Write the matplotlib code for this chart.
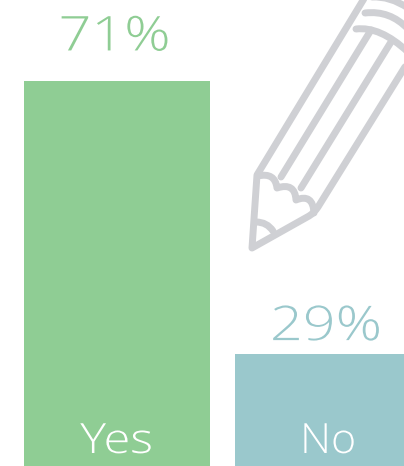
import matplotlib
matplotlib.use('Agg')
import matplotlib.pyplot as plt
from matplotlib.path import Path
from matplotlib.patches import PathPatch
from matplotlib.patheffects import AbstractPathEffect
from matplotlib.transforms import Affine2D

answers = ['Yes', 'No']
shares = [71, 29]
bar_colors = ['#8fcd94', '#9ac8cc']
pencil_color = '#cfd0d4'

plt.rcParams['font.family'] = ['Open Sans', 'DejaVu Sans']


class Widen(AbstractPathEffect):
    # horizontal stretch of a text around a fixed x position on the canvas
    def __init__(self, factor, center):
        super().__init__()
        self.factor = factor
        self.center = center

    def draw_path(self, renderer, gc, tpath, affine, rgbFace=None):
        stretch = Affine2D().translate(-self.center, 0).scale(self.factor, 1).translate(self.center, 0)
        renderer.draw_path(gc, tpath, affine + stretch, rgbFace)


fig = plt.figure(figsize=(4.04, 4.66), dpi=100)
ax = fig.add_axes([0, 0, 1, 1])

# the baseline sits below the bottom edge, so the bars are cut off there
ax.bar(range(len(answers)), shares, width=0.879, color=bar_colors)
ax.set_xlim(-0.551, 1.359)
ax.set_ylim(11.77, 83.46)
ax.axis('off')

# gap between bar top and percentage text, in points
label_gaps = [22, 10]
name_widths = [1.17, 1.03]
for i, (name, value) in enumerate(zip(answers, shares)):
    x = i - 0.01
    center = ax.transData.transform((x, 0))[0]
    ax.annotate('%d%%' % value, (x, value), xytext=(0, label_gaps[i]),
                textcoords='offset points', ha='center', va='baseline',
                fontsize=34.5, fontweight='light', color=bar_colors[i],
                path_effects=[Widen(1.2, center)])
    center = ax.transData.transform((i, 0))[0]
    ax.text(i, 13.77, name, ha='center', va='baseline', fontsize=30,
            fontweight='light', color='white',
            path_effects=[Widen(name_widths[i], center)])

# pencil icon, drawn in pixel coordinates on top of the chart
icon = fig.add_axes([0, 0, 1, 1], facecolor='none')
icon.set_xlim(0, 404)
icon.set_ylim(466, 0)
icon.axis('off')

M, L, C = Path.MOVETO, Path.LINETO, Path.CURVE3


def stroke(points, codes=None, lw=5):
    codes = codes or [M] + [L] * (len(points) - 1)
    icon.add_patch(PathPatch(Path(points, codes), fill=False, ec=pencil_color,
                             lw=lw, capstyle='round', joinstyle='round'))


# body outline, with a rounded corner at the lower right
stroke([(365, -3), (257, 175), (252, 248), (309, 216), (314, 213), (318, 207), (408, 62)],
       [M, L, L, L, C, C, L])
# stripes
stroke([(281, 177), (371, 30)])
stroke([(301, 188), (391, 42)])
# ferrule bands
stroke([(356, 29), (380, 26), (408, 52)], [M, C, C])
stroke([(365, 13), (390, 10), (408, 29)], [M, C, C])
stroke([(372, -3), (390, -4), (408, 8)], [M, C, C])
# scalloped edge of the sharpened wood
stroke([(258, 176), (275, 172), (277, 188), (295, 182), (296, 200),
        (313, 193), (314, 213)], [M, C, C, C, C, C, C])
# lead tip
stroke([(256, 222), (267, 222), (273, 231)], [M, C, C])

fig.savefig('out.png', dpi=100)
